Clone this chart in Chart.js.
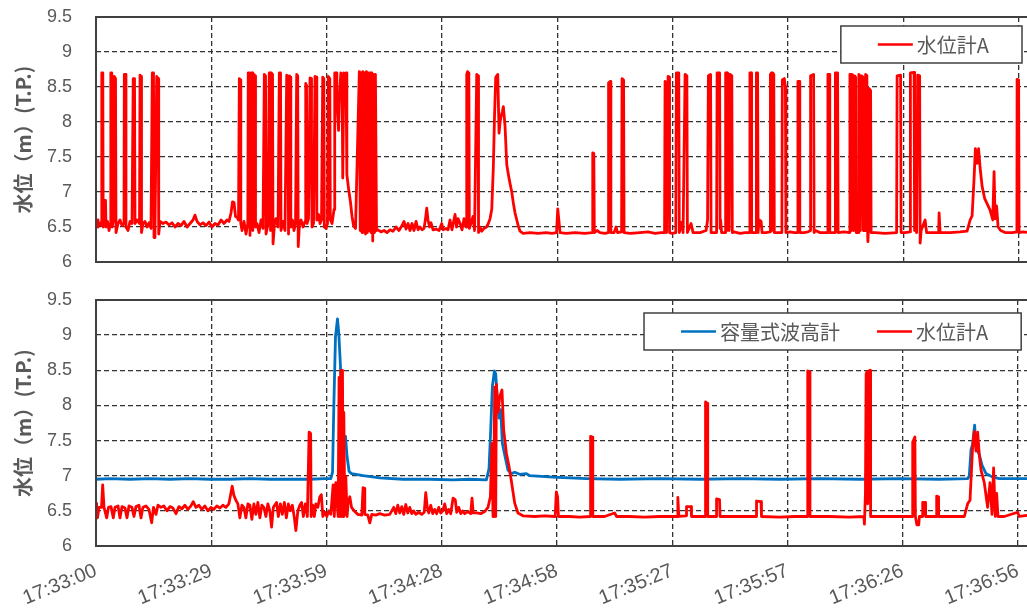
<!DOCTYPE html>
<html>
<head>
<meta charset="utf-8">
<title>水位</title>
<script src="https://cdn.jsdelivr.net/npm/chart.js@4.4.0/dist/chart.umd.min.js"></script>
<style>
    html, body { margin: 0; padding: 0; background: #fff; overflow: hidden; }
    #wrap { position: relative; width: 1027px; height: 610px; overflow: hidden; }
    .panel { position: absolute; left: 0; }
</style>
</head>
<body>
<div id="wrap">
    <canvas id="topChart" class="panel" width="1040" height="280" style="top:0px"></canvas>
    <canvas id="bottomChart" class="panel" width="1040" height="330" style="top:280px"></canvas>
</div>
<script>
// seconds after 17:33:00
const tickSeconds = [0, 29.5, 59, 88.5, 118, 147.5, 177, 206.5, 236];
const tickLabels = ['17:33:00', '17:33:29', '17:33:59', '17:34:28', '17:34:58',
    '17:35:27', '17:35:57', '17:36:26', '17:36:56'];

// upper panel: 水位計A  [seconds, m]
const topLevelA = [
    [0, 6.55], [0.26, 6.60], [0.51, 6.50], [0.9, 6.56], [1.41, 6.52], [1.48, 8.70], [1.74, 8.70], [1.84, 6.50],
    [2.05, 6.88], [2.43, 6.88], [2.56, 6.50], [2.94, 6.58], [3.33, 6.45], [3.71, 6.55], [3.79, 8.70], [4.04, 8.70],
    [4.14, 6.50], [4.48, 6.60], [4.66, 8.65], [4.99, 8.62], [5.12, 6.42], [5.63, 6.55], [6.14, 6.60], [6.65, 6.52],
    [7.16, 6.55], [7.24, 8.68], [7.55, 8.68], [7.67, 6.50], [8.19, 6.45], [8.70, 6.58], [9.21, 6.55], [9.52, 8.62],
    [9.85, 8.62], [9.98, 6.55], [10.49, 6.60], [11.13, 6.55], [11.26, 8.67], [11.51, 8.65], [11.64, 6.42], [12.02, 6.55],
    [12.53, 6.58], [13.05, 6.50], [13.56, 6.56], [14.07, 6.48], [14.40, 8.70], [14.71, 8.70], [14.84, 6.35], [15.09, 6.52],
    [15.53, 8.65], [15.91, 8.62], [16.04, 6.40], [16.37, 6.58], [17.14, 6.55], [17.91, 6.57], [18.67, 6.53], [19.44, 6.56],
    [20.21, 6.50], [20.98, 6.55], [21.74, 6.52], [22.51, 6.58], [23.28, 6.50], [24.05, 6.55], [24.81, 6.60], [25.32, 6.67],
    [25.84, 6.58], [26.60, 6.53], [27.37, 6.56], [28.14, 6.52], [28.91, 6.57], [29.67, 6.50], [30.44, 6.55], [31.21, 6.53],
    [31.98, 6.60], [32.74, 6.55], [33.51, 6.60], [34.02, 6.58], [34.53, 6.70], [34.92, 6.86], [35.30, 6.85], [35.68, 6.65],
    [36.07, 6.64], [36.45, 6.60], [36.66, 8.62], [36.89, 8.60], [37.04, 6.55], [37.35, 6.45], [37.86, 6.58], [38.37, 6.40],
    [38.83, 6.55], [38.94, 8.70], [39.27, 8.70], [39.39, 6.38], [39.73, 8.70], [39.99, 8.70], [40.11, 6.45], [40.42, 8.68],
    [40.68, 8.66], [40.80, 6.50], [41.18, 6.55], [41.70, 6.42], [42.21, 6.60], [42.72, 6.48], [43.05, 8.68], [43.36, 8.66],
    [43.49, 6.40], [44.00, 6.55], [44.31, 8.70], [44.51, 8.70], [44.64, 6.45], [44.89, 8.70], [45.15, 8.68], [45.28, 6.26],
    [45.66, 6.55], [46.04, 6.62], [46.56, 6.50], [46.89, 8.70], [47.20, 8.70], [47.32, 6.45], [47.83, 6.58], [48.34, 6.45],
    [48.78, 8.67], [49.11, 8.65], [49.24, 6.40], [49.49, 8.66], [49.67, 8.64], [49.83, 6.50], [50.26, 6.60], [50.64, 6.45],
    [51.03, 6.55], [51.33, 8.68], [51.59, 8.66], [51.72, 6.22], [52.05, 6.55], [52.44, 6.60], [52.95, 6.50], [53.46, 6.58],
    [53.64, 8.55], [53.85, 8.52], [53.97, 6.55], [54.36, 6.62], [54.74, 8.63], [55.00, 8.62], [55.12, 7.60], [55.25, 6.50],
    [55.64, 6.55], [56.02, 8.65], [56.35, 8.64], [56.48, 6.60], [56.91, 6.68], [57.30, 6.55], [57.68, 6.60], [57.99, 8.64],
    [58.27, 8.62], [58.40, 6.50], [58.83, 6.48], [59.21, 6.55], [59.42, 8.65], [59.80, 8.62], [59.93, 6.60], [60.37, 6.55],
    [60.75, 6.70], [60.88, 6.75], [61.06, 8.70], [61.39, 8.70], [61.60, 8.30], [62.04, 7.88], [62.29, 8.40], [62.62, 8.70],
    [62.93, 8.68], [63.11, 7.20], [63.39, 8.70], [63.69, 8.68], [63.95, 8.70], [64.16, 7.25], [64.59, 7.05], [65.10, 6.85],
    [65.49, 6.65], [65.87, 6.52], [66.38, 6.48], [67.35, 8.72], [67.58, 6.45], [67.78, 8.70], [68.04, 6.42], [68.25, 8.72],
    [68.50, 6.45], [68.71, 8.70], [68.94, 6.40], [69.17, 8.72], [69.40, 6.42], [69.63, 8.70], [69.86, 6.45], [70.09, 8.70],
    [70.32, 6.42], [70.55, 8.70], [70.78, 6.30], [71.01, 8.68], [71.24, 6.42], [71.47, 8.68], [71.75, 6.45], [72.13, 6.46],
    [72.90, 6.43], [73.67, 6.45], [74.43, 6.42], [75.20, 6.46], [75.97, 6.44], [76.74, 6.50], [77.50, 6.45], [78.27, 6.52],
    [78.78, 6.58], [79.30, 6.47], [79.81, 6.55], [80.32, 6.45], [80.83, 6.55], [81.34, 6.45], [81.86, 6.58], [82.37, 6.46],
    [82.88, 6.50], [83.39, 6.46], [83.90, 6.48], [84.28, 6.62], [84.59, 6.77], [84.92, 6.60], [85.31, 6.50], [85.69, 6.56],
    [86.20, 6.46], [86.97, 6.47], [87.74, 6.45], [88.43, 6.55], [88.76, 6.46], [89.53, 6.48], [90.04, 6.46], [90.55, 6.60],
    [91.06, 6.46], [91.83, 6.68], [92.21, 6.50], [92.60, 6.62], [93.11, 6.55], [93.62, 6.46], [94.13, 6.62], [94.65, 6.50],
    [94.82, 8.68], [95.03, 8.72], [95.36, 8.70], [95.49, 6.48], [95.92, 6.55], [96.43, 6.65], [96.82, 6.45], [97.38, 8.68],
    [97.71, 8.66], [97.84, 6.42], [98.22, 6.50], [98.66, 6.44], [99.25, 6.48], [99.89, 6.50], [100.35, 6.55], [100.79, 6.62],
    [101.22, 6.75], [101.63, 7.36], [101.94, 8.10], [102.24, 8.64], [102.76, 8.68], [103.09, 7.84], [103.34, 8.00], [103.60, 8.08],
    [103.93, 8.15], [104.19, 8.22], [104.62, 7.94], [105.06, 7.39], [105.47, 7.25], [105.90, 7.12], [106.34, 7.00], [106.75, 6.84],
    [107.18, 6.70], [107.62, 6.60], [108.08, 6.50], [108.46, 6.44], [109.23, 6.41], [111.02, 6.42], [113.06, 6.41], [115.11, 6.42],
    [116.64, 6.41], [117.79, 6.42], [118.10, 6.76], [118.38, 6.60], [118.69, 6.42], [120.22, 6.41], [122.52, 6.42], [125.08, 6.41],
    [126.87, 6.42], [127.05, 7.56], [127.33, 7.55], [127.46, 6.42], [128.15, 6.45], [128.92, 6.42], [130.20, 6.41], [130.97, 6.42],
    [131.10, 8.56], [131.56, 8.58], [131.69, 6.42], [132.51, 6.42], [133.02, 6.50], [133.40, 6.42], [134.43, 6.43], [134.55, 8.62],
    [134.94, 8.60], [135.06, 6.42], [136.60, 6.41], [139.15, 6.42], [141.20, 6.43], [142.99, 6.41], [144.53, 6.42], [145.42, 6.42],
    [145.55, 8.58], [145.80, 8.56], [145.93, 6.42], [146.32, 8.65], [146.57, 8.64], [146.70, 6.42], [147.34, 6.41], [148.29, 6.42],
    [148.44, 8.70], [149.06, 8.70], [149.19, 6.42], [149.83, 6.57], [150.16, 6.42], [150.67, 8.68], [151.13, 8.66], [151.26, 6.42],
    [152.20, 6.55], [152.71, 6.42], [154.51, 6.42], [156.04, 6.45], [156.42, 6.60], [156.63, 8.66], [157.19, 8.68], [157.32, 6.42],
    [158.73, 6.42], [158.86, 8.70], [159.50, 8.70], [159.62, 6.48], [159.75, 6.60], [160.01, 6.42], [160.91, 6.42], [161.04, 8.70],
    [161.24, 8.70], [161.37, 6.45], [161.55, 8.70], [161.80, 8.68], [161.93, 6.45], [162.19, 8.68], [162.62, 8.66], [162.75, 6.42],
    [163.21, 6.43], [164.74, 6.41], [166.02, 6.42], [167.17, 6.42], [167.25, 8.70], [167.55, 8.70], [167.68, 6.42], [168.83, 6.42],
    [168.91, 8.70], [169.22, 8.70], [169.34, 6.42], [169.60, 6.60], [170.11, 6.58], [170.36, 6.42], [171.39, 6.42], [172.41, 6.43],
    [172.49, 8.68], [172.72, 8.70], [172.85, 6.45], [173.13, 8.70], [173.36, 8.68], [173.49, 6.42], [174.46, 6.42], [175.43, 6.42],
    [175.54, 8.60], [176.05, 8.62], [176.33, 8.50], [176.46, 6.42], [177.53, 6.43], [178.56, 6.42], [179.45, 6.42], [179.53, 8.58],
    [179.89, 8.58], [180.01, 6.42], [181.11, 6.42], [182.13, 6.43], [182.70, 6.45], [182.77, 8.66], [183.54, 8.68], [183.67, 6.42],
    [184.00, 6.45], [185.20, 6.42], [187.12, 6.42], [187.20, 8.68], [187.55, 8.68], [187.68, 6.42], [189.04, 6.42], [189.11, 8.70],
    [189.68, 8.70], [189.81, 6.42], [191.34, 6.43], [192.75, 6.42], [192.83, 8.68], [193.08, 8.68], [193.21, 6.45], [193.39, 8.68],
    [193.64, 8.66], [193.77, 6.45], [194.05, 8.66], [194.31, 8.64], [194.43, 6.42], [195.05, 6.42], [195.12, 8.68], [195.38, 8.66],
    [195.51, 6.45], [195.89, 8.66], [196.15, 8.64], [196.28, 6.45], [196.76, 6.45], [196.84, 8.68], [197.17, 8.66], [197.30, 6.55],
    [197.43, 6.29], [197.58, 6.50], [197.69, 8.48], [198.12, 8.45], [198.25, 6.42], [199.27, 6.42], [201.83, 6.41], [204.77, 6.42],
    [204.90, 8.66], [205.79, 8.67], [205.92, 6.42], [206.94, 6.42], [208.22, 6.43], [208.30, 8.70], [209.24, 8.71], [209.37, 6.45],
    [209.63, 6.72], [209.89, 6.42], [210.15, 8.67], [210.66, 8.66], [210.79, 6.27], [211.04, 6.45], [212.06, 6.60], [212.45, 6.42],
    [213.85, 6.42], [215.52, 6.42], [215.64, 6.70], [215.90, 6.42], [218.45, 6.42], [221.01, 6.43], [222.80, 6.44], [223.57, 6.60],
    [224.08, 6.66], [224.59, 7.20], [224.92, 7.62], [225.36, 7.41], [225.74, 7.62], [226.12, 7.35], [226.64, 7.08], [227.28, 6.91],
    [228.68, 6.74], [229.37, 6.60], [229.70, 7.29], [229.96, 6.62], [230.34, 6.80], [230.73, 6.50], [231.37, 6.45], [232.52, 6.42],
    [234.31, 6.42], [235.54, 6.43], [235.59, 8.61], [235.98, 8.60], [236.10, 6.42], [237.12, 6.43], [238.91, 6.42]
];

// lower panel: 容量式波高計
const bottomWaveGauge = [
    [0, 6.95], [3.58, 6.96], [8.70, 6.95], [13.81, 6.96], [18.93, 6.95], [24.05, 6.96], [29.16, 6.95], [34.28, 6.95],
    [39.39, 6.96], [44.51, 6.95], [49.63, 6.95], [54.74, 6.95], [58.58, 6.96], [60.11, 6.96], [60.55, 7.05], [60.88, 7.98],
    [61.31, 8.98], [61.82, 9.23], [62.16, 9.02], [62.59, 8.55], [63.00, 7.94], [63.44, 7.51], [63.87, 7.56], [64.28, 7.27],
    [64.79, 7.06], [65.41, 7.03], [68.37, 7.00], [72.64, 6.97], [78.60, 6.95], [85.43, 6.95], [91.40, 6.94], [95.67, 6.95],
    [99.94, 6.94], [100.61, 7.10], [101.04, 7.65], [101.47, 8.27], [101.99, 8.49], [102.32, 8.45], [102.76, 8.08], [103.16, 7.82],
    [103.60, 7.94], [104.03, 7.46], [104.62, 7.30], [105.47, 7.08], [106.34, 7.03], [107.18, 7.05], [108.46, 7.02], [110.17, 7.03],
    [111.02, 7.00], [116.98, 6.98], [125.52, 6.96], [134.04, 6.95], [144.27, 6.96], [154.50, 6.95], [164.73, 6.96], [174.97, 6.95],
    [185.20, 6.96], [195.43, 6.95], [205.66, 6.96], [215.89, 6.95], [223.18, 6.96], [223.56, 7.00], [224.00, 7.37], [224.41, 7.45],
    [224.92, 7.72], [225.28, 7.41], [226.12, 7.30], [226.81, 7.15], [227.83, 7.03], [229.52, 6.98], [231.24, 6.96], [238.91, 6.96]
];

// lower panel: 水位計A
const bottomLevelA = [
    [0, 6.48], [0.13, 6.61], [0.38, 6.40], [0.77, 6.55], [1.41, 6.55], [1.71, 6.87], [2.05, 6.55], [2.30, 6.55],
    [2.74, 6.40], [3.20, 6.55], [3.84, 6.56], [4.43, 6.40], [4.86, 6.55], [5.63, 6.57], [6.14, 6.40], [6.65, 6.56],
    [7.42, 6.54], [7.93, 6.40], [8.44, 6.57], [9.21, 6.55], [9.72, 6.42], [10.23, 6.56], [11.00, 6.58], [11.51, 6.40],
    [12.02, 6.55], [12.79, 6.57], [13.56, 6.52], [14.25, 6.33], [14.71, 6.55], [15.35, 6.45], [15.86, 6.58], [16.63, 6.55],
    [17.39, 6.57], [18.16, 6.50], [18.93, 6.56], [19.70, 6.54], [20.46, 6.46], [21.23, 6.56], [22.00, 6.53], [22.77, 6.58],
    [23.53, 6.52], [24.30, 6.57], [24.89, 6.63], [25.58, 6.55], [26.35, 6.58], [27.11, 6.52], [27.88, 6.57], [28.65, 6.50],
    [29.42, 6.55], [30.18, 6.52], [30.95, 6.57], [31.72, 6.54], [32.49, 6.58], [33.25, 6.55], [34.02, 6.60], [34.53, 6.75],
    [34.87, 6.85], [35.30, 6.72], [35.81, 6.65], [36.32, 6.60], [36.83, 6.40], [37.35, 6.58], [37.86, 6.55], [38.37, 6.40],
    [38.88, 6.60], [39.39, 6.58], [39.90, 6.38], [40.42, 6.60], [40.93, 6.45], [41.44, 6.62], [41.95, 6.40], [42.46, 6.58],
    [42.97, 6.55], [43.49, 6.42], [44.00, 6.60], [44.51, 6.50], [44.94, 6.27], [45.40, 6.55], [46.22, 6.62], [46.68, 6.42],
    [47.19, 6.60], [47.71, 6.45], [48.22, 6.62], [48.73, 6.40], [49.24, 6.60], [49.75, 6.50], [50.26, 6.58], [50.78, 6.40],
    [51.16, 6.22], [51.67, 6.50], [52.18, 6.58], [52.62, 6.62], [53.08, 6.42], [53.59, 6.60], [54.10, 6.42], [54.56, 7.62],
    [54.95, 7.60], [55.07, 6.42], [55.51, 6.58], [55.89, 6.42], [56.28, 6.60], [56.79, 6.55], [57.30, 6.70], [57.68, 6.73],
    [58.07, 6.42], [58.58, 6.48], [59.09, 6.42], [59.60, 6.50], [60.11, 6.45], [60.70, 6.87], [61.00, 6.42], [61.39, 6.90],
    [61.77, 6.60], [61.98, 6.42], [62.23, 8.40], [62.46, 6.42], [62.67, 8.50], [62.92, 6.42], [63.10, 8.50], [63.28, 6.42],
    [63.44, 7.90], [63.69, 6.45], [63.95, 6.99], [64.28, 6.42], [64.54, 6.62], [64.97, 6.70], [65.41, 6.55], [66.25, 6.49],
    [67.02, 6.45], [68.04, 6.44], [68.37, 6.83], [68.63, 6.82], [68.81, 6.45], [69.58, 6.44], [70.09, 6.33], [70.60, 6.45],
    [71.62, 6.44], [72.64, 6.46], [73.92, 6.44], [75.20, 6.45], [76.23, 6.55], [76.74, 6.46], [77.25, 6.58], [77.76, 6.47],
    [78.27, 6.56], [78.78, 6.45], [79.30, 6.59], [79.81, 6.47], [80.32, 6.55], [80.83, 6.46], [81.34, 6.50], [81.86, 6.45],
    [82.62, 6.48], [83.39, 6.45], [84.03, 6.48], [84.41, 6.76], [84.80, 6.55], [85.18, 6.47], [85.69, 6.58], [86.20, 6.46],
    [86.71, 6.52], [87.22, 6.46], [87.74, 6.55], [88.25, 6.47], [88.76, 6.50], [89.27, 6.60], [89.78, 6.46], [90.29, 6.52],
    [90.80, 6.46], [91.40, 6.68], [91.96, 6.66], [92.34, 6.48], [92.86, 6.55], [93.37, 6.46], [93.88, 6.50], [94.39, 6.46],
    [95.16, 6.49], [95.92, 6.46], [96.26, 6.68], [96.56, 6.47], [97.46, 6.47], [98.48, 6.46], [99.50, 6.49], [100.35, 6.55],
    [100.96, 6.70], [101.37, 7.46], [101.63, 6.42], [101.81, 6.80], [102.07, 8.26], [102.32, 6.42], [102.50, 8.30], [102.91, 7.90],
    [103.34, 8.12], [103.93, 8.22], [104.36, 7.65], [105.06, 7.32], [105.73, 7.13], [106.34, 6.92], [107.18, 6.61], [108.02, 6.47],
    [109.30, 6.43], [112.30, 6.42], [114.85, 6.43], [117.54, 6.42], [117.84, 6.77], [118.17, 6.70], [118.38, 6.42], [121.25, 6.42],
    [123.80, 6.41], [126.49, 6.42], [126.61, 7.56], [127.05, 7.55], [127.18, 6.42], [130.20, 6.42], [132.76, 6.47], [133.27, 6.42],
    [136.60, 6.42], [140.43, 6.41], [144.27, 6.42], [148.74, 6.42], [148.95, 6.69], [149.20, 6.42], [151.05, 6.43], [151.17, 6.56],
    [152.32, 6.56], [152.45, 6.42], [154.50, 6.42], [155.91, 6.42], [156.04, 8.05], [156.47, 8.03], [156.60, 6.42], [158.73, 6.42],
    [158.86, 6.67], [159.62, 6.66], [159.75, 6.42], [163.46, 6.42], [168.96, 6.42], [169.09, 6.64], [170.24, 6.63], [170.36, 6.42],
    [174.97, 6.41], [178.81, 6.42], [182.13, 6.42], [182.20, 8.49], [182.64, 8.48], [182.77, 6.42], [187.75, 6.42], [192.87, 6.41],
    [196.58, 6.42], [196.71, 6.31], [196.97, 6.75], [197.15, 8.45], [197.40, 8.48], [197.55, 6.60], [197.86, 8.49], [198.17, 8.50],
    [198.29, 6.42], [201.83, 6.42], [205.66, 6.42], [208.99, 6.42], [209.07, 7.48], [209.63, 7.55], [209.76, 6.42], [210.15, 6.30],
    [210.61, 6.30], [210.79, 6.42], [211.55, 6.42], [211.63, 6.62], [212.25, 6.62], [212.37, 6.42], [215.13, 6.42], [215.21, 6.71],
    [215.57, 6.70], [215.70, 6.42], [218.45, 6.42], [222.29, 6.42], [223.13, 6.60], [223.74, 6.65], [224.41, 7.41], [224.84, 7.63],
    [225.28, 7.35], [225.69, 7.62], [226.12, 7.30], [226.56, 7.08], [227.40, 6.90], [228.25, 6.55], [228.86, 6.90], [229.37, 6.45],
    [229.78, 7.11], [230.22, 6.42], [230.55, 6.75], [230.91, 6.42], [232.52, 6.42], [235.93, 6.48], [236.36, 6.42], [238.91, 6.44]
];

const textGray = '#595959';
const frameGray = '#404040';

Chart.defaults.font.family = '"Liberation Sans", Arial, sans-serif';
Chart.defaults.color = textGray;

// plot frame drawn over the dashed grid
const framePlugin = {
    id: 'frame',
    afterDatasetsDraw(chart) {
        const { ctx, chartArea: a } = chart;
        ctx.save();
        ctx.strokeStyle = frameGray;
        ctx.lineWidth = 2;
        ctx.strokeRect(a.left, a.top, a.right - a.left, a.bottom - a.top);
        ctx.restore();
    }
};

// boxed legend inside the plot, right aligned
const boxLegendPlugin = {
    id: 'boxLegend',
    afterDatasetsDraw(chart, args, opts) {
        const { ctx, chartArea: a } = chart;
        ctx.save();
        ctx.font = '20px "Noto Sans CJK JP"';
        const items = chart.data.datasets.map(ds => ({
            label: ds.label, color: ds.borderColor, w: ctx.measureText(ds.label).width
        }));
        let width = 37 + 33;
        items.forEach((it, i) => { width += 39 + it.w + (i > 0 ? 37 : 0); });
        const h = 37;
        const left = a.right - 10 - width;
        const top = a.top + opts.top;
        ctx.fillStyle = '#fff';
        ctx.fillRect(left, top, width, h);
        ctx.strokeStyle = frameGray;
        ctx.lineWidth = 1.5;
        ctx.strokeRect(left, top, width, h);

        let x = left + 37;
        const y = top + h / 2;
        ctx.textBaseline = 'middle';
        items.forEach(it => {
            ctx.strokeStyle = it.color;
            ctx.lineWidth = 2.5;
            ctx.beginPath();
            ctx.moveTo(x, y);
            ctx.lineTo(x + 35, y);
            ctx.stroke();
            ctx.fillStyle = textGray;
            ctx.fillText(it.label, x + 39, y + 1);
            x += 39 + it.w + 37;
        });
        ctx.restore();
    }
};

function makeOptions(showTimeLabels, legendTop, xHeight, padTop) {
    return {
        responsive: false,
        animation: false,
        layout: { padding: { top: padTop, right: 8, bottom: 0, left: 0 } },
        plugins: {
            legend: { display: false },
            tooltip: { enabled: false },
            boxLegend: { top: legendTop }
        },
        elements: {
            point: { radius: 0 },
            line: { tension: 0, borderJoinStyle: 'round', borderCapStyle: 'round' }
        },
        scales: {
            x: {
                type: 'linear',
                min: 0,
                max: 239.4,
                afterBuildTicks: scale => { scale.ticks = tickSeconds.map(v => ({ value: v })); },
                afterFit: scale => { scale.height = xHeight; },
                grid: { color: '#333', lineWidth: 1.3, drawTicks: false },
                border: { display: false, dash: [5, 3] },
                ticks: {
                    display: showTimeLabels,
                    autoSkip: false,
                    minRotation: 22,
                    maxRotation: 22,
                    padding: 13,
                    font: { size: 20 },
                    callback: (value, index) => tickLabels[index]
                }
            },
            y: {
                min: 6,
                max: 9.5,
                afterFit: scale => { scale.width = 96; },
                grid: { color: '#333', lineWidth: 1.3, drawTicks: true, tickLength: 21, tickColor: 'rgba(0,0,0,0)' },
                border: { display: false, dash: [5, 3] },
                ticks: {
                    stepSize: 0.5,
                    padding: 3,
                    font: { size: 18 },
                    callback: value => String(value)
                },
                title: {
                    display: true,
                    text: '水位（m）(T.P.)',
                    color: textGray,
                    padding: { top: 11, bottom: 0 },
                    font: { family: '"Noto Sans CJK JP"', size: 20, weight: 'bold' }
                }
            }
        }
    };
}

new Chart(document.getElementById('topChart'), {
    type: 'line',
    data: {
        datasets: [{
            label: '水位計A',
            data: topLevelA,
            borderColor: '#ff0000',
            borderWidth: 2.8
        }]
    },
    options: makeOptions(false, 9, 18, 17),
    plugins: [framePlugin, boxLegendPlugin]
});

new Chart(document.getElementById('bottomChart'), {
    type: 'line',
    data: {
        datasets: [{
            label: '容量式波高計',
            data: bottomWaveGauge,
            borderColor: '#0070c0',
            borderWidth: 2.8,
            order: 1
        }, {
            label: '水位計A',
            data: bottomLevelA,
            borderColor: '#ff0000',
            borderWidth: 2.8,
            order: 0
        }]
    },
    options: makeOptions(true, 13, 64, 20),
    plugins: [framePlugin, boxLegendPlugin]
});
</script>
</body>
</html>
